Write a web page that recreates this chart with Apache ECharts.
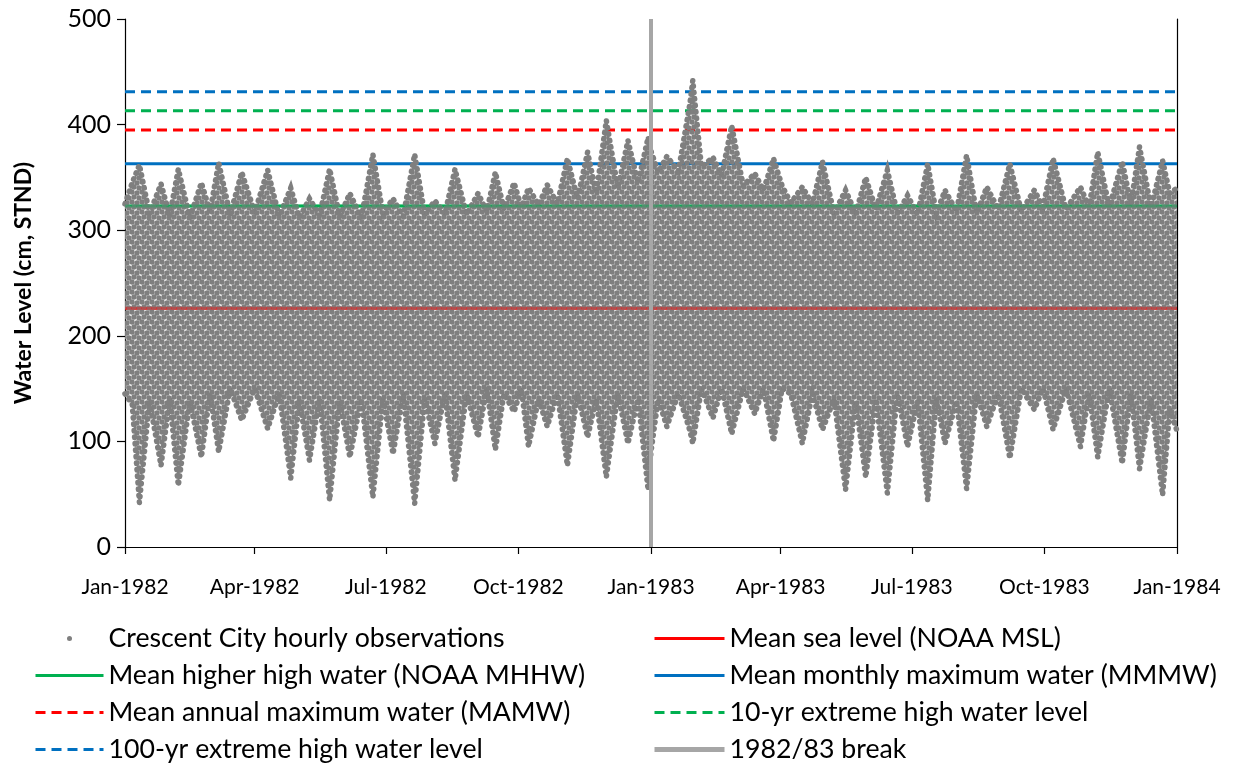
<!DOCTYPE html>
<html>
<head>
<meta charset="utf-8">
<script src="https://cdn.jsdelivr.net/npm/echarts@6/dist/echarts.min.js"></script>
<style>
html,body{margin:0;padding:0;background:#fff;}
#chart{width:1244px;height:763px;}
</style>
</head>
<body>
<div id="chart"></div>
<script>
// ---------------- data ----------------
// envelope of the hourly observation cloud, sampled at spring tides and neaps
// (days counted from startDate)
const startDate = '1982-01-01';
const sampleDay = [0,5,10,17,25,31,37,45,53,59,65,73,81,90,99,107,115,121,128,135,142,149,156,164,172,179,186,193,201,208,215,222,229,237,245,251,257,263,270,275,280,287,293,300,307,314,321,327,334,342,349,356,363,365,370,376,384,392,394,400,408,414,421,429,437,443,450,456,462,470,477,484,492,500,507,514,521,529,536,543,550,557,563,569,577,584,591,598,606,614,622,631,637,644,653,663,669,675,683,692,698,704,712,720,725,730];
const lowWater = [145,135,42,138,77,140,58,138,85,145,90,150,120,150,112,145,65,138,82,140,44,138,85,140,47,140,88,145,41,140,98,145,63,145,104,150,92,145,128,150,95,140,114,145,77,145,104,140,66,145,98,140,54,90,140,114,145,110,98,150,122,150,107,150,126,150,100,150,145,98,145,111,140,54,138,66,140,51,145,95,138,44,140,98,138,55,145,114,145,84,150,130,150,111,150,95,145,85,150,79,145,74,140,49,130,110];
const highWater = [325,345,362,316,344,314,358,312,345,318,364,315,355,317,357,313,340,312,330,314,358,313,335,312,372,316,330,313,372,315,328,316,358,315,335,318,355,320,345,322,340,324,343,325,368,330,374,335,404,340,385,345,388,375,355,370,356,420,442,360,369,352,399,342,354,338,368,342,326,341,325,365,316,338,316,350,320,357,316,333,315,363,316,338,318,371,316,341,320,363,318,338,322,368,320,341,322,374,322,365,325,379,322,366,335,340];

// reference levels (cm, STND)
const levelNames = [
  'Mean sea level (NOAA MSL)',
  'Mean higher high water (NOAA MHHW)',
  'Mean monthly maximum water (MMMW)',
  'Mean annual maximum water (MAMW)',
  '10-yr extreme high water level',
  '100-yr extreme high water level'
];
const levelValues = [226, 323, 363, 395, 413, 431];

const obsName = 'Crescent City hourly observations';
const breakName = '1982/83 break';
const breakDate = '1983-01-01';
const axisEnd = '1984-01-01';
const tickDates = ['1982-01-01','1982-04-01','1982-07-01','1982-10-01','1983-01-01','1983-04-01','1983-07-01','1983-10-01','1984-01-01'];
const tickLabels = ['Jan-1982','Apr-1982','Jul-1982','Oct-1982','Jan-1983','Apr-1983','Jul-1983','Oct-1983','Jan-1984'];

// ---------------- helpers ----------------
const DAY = 86400000;
const toT = s => Date.parse(s + 'T00:00:00Z');
const dayOf = s => Math.round((toT(s) - toT(startDate)) / DAY);
const tickDays = tickDates.map(dayOf);
const endDay = dayOf(axisEnd);
const breakDay = dayOf(breakDate);

// style: speckled grey fill imitating overlapping observation dots
function makeDotPattern() {
  const s = 10;
  const c = document.createElement('canvas');
  c.width = s; c.height = s;
  const g = c.getContext('2d');
  g.fillStyle = '#7f7f7f';
  const pts = [[2, 2], [7, 3], [4, 7], [9, 8]];
  for (const [x, y] of pts) {
    for (let dx = -s; dx <= s; dx += s) {
      for (let dy = -s; dy <= s; dy += s) {
        g.beginPath();
        g.arc(x + dx, y + dy, 2.65, 0, Math.PI * 2);
        g.fill();
      }
    }
  }
  return c;
}
const dotPattern = makeDotPattern();

const levelStyles = [
  {color: '#ff0000', type: 'solid'},
  {color: '#00b050', type: 'solid'},
  {color: '#0070c0', type: 'solid'},
  {color: '#ff0000', type: [10, 6]},
  {color: '#00b050', type: [10, 6]},
  {color: '#0070c0', type: [10, 6]}
];

const series = [];
levelNames.forEach((name, i) => {
  series.push({
    type: 'line',
    name: name,
    data: [[0, levelValues[i]], [endDay, levelValues[i]]],
    symbol: 'none',
    silent: true,
    z: 2,
    itemStyle: {color: levelStyles[i].color},
    lineStyle: {color: levelStyles[i].color, width: 3, type: levelStyles[i].type}
  });
});

const obsData = sampleDay.map((d, i) => [d, lowWater[i], highWater[i]]);
series.push({
  type: 'custom',
  name: obsName,
  coordinateSystem: 'cartesian2d',
  data: obsData,
  encode: {x: 0, y: [1, 2]},
  itemStyle: {color: '#7f7f7f'},
  silent: true,
  z: 3,
  renderItem: function (params, api) {
    if (params.dataIndex !== 0) return null;
    const up = [], lo = [];
    for (let i = 0; i < obsData.length; i++) {
      up.push(api.coord([obsData[i][0], obsData[i][2]]));
      lo.push(api.coord([obsData[i][0], obsData[i][1]]));
    }
    const poly = up.concat(lo.slice().reverse());
    const edge = {stroke: '#7f7f7f', lineWidth: 5.5, lineDash: [0.5, 6], lineCap: 'round', fill: null};
    return {
      type: 'group',
      children: [
        {type: 'polygon', shape: {points: poly}, style: {fill: {image: dotPattern, repeat: 'repeat'}}},
        {type: 'polyline', shape: {points: up}, style: Object.assign({}, edge)},
        {type: 'polyline', shape: {points: lo}, style: Object.assign({}, edge)}
      ]
    };
  }
});

// faint overlay of the two levels that run through the dot cloud (seen through the dots in the reference)
[0, 1].forEach(i => {
  series.push({
    type: 'line',
    name: levelNames[i] + ' (overlay)',
    data: [[0, levelValues[i]], [endDay, levelValues[i]]],
    symbol: 'none',
    silent: true,
    z: 3.5,
    lineStyle: {color: levelStyles[i].color, width: 3, opacity: 0.35}
  });
});

series.push({
  type: 'line',
  name: breakName,
  data: [[breakDay, 0], [breakDay, 500]],
  symbol: 'none',
  silent: true,
  z: 4,
  itemStyle: {color: '#a6a6a6'},
  lineStyle: {color: '#a6a6a6', width: 4}
});

const legendText = {fontFamily: 'Lato', fontSize: 26.7, color: '#000'};

const option = {
  animation: false,
  backgroundColor: '#ffffff',
  grid: {left: 125, right: 67, top: 19, bottom: 216, containLabel: false},
  xAxis: [{
    type: 'value',
    min: 0,
    max: endDay,
    axisLine: {show: true, onZero: false, lineStyle: {color: '#000', width: 1.2}},
    axisTick: {show: true, customValues: tickDays, length: 7, lineStyle: {color: '#000', width: 1.2}},
    axisLabel: {
      customValues: tickDays,
      formatter: function (v) {
        const i = tickDays.indexOf(Math.round(v));
        return i >= 0 ? tickLabels[i] : '';
      },
      fontFamily: 'Lato', fontSize: 21, color: '#000', margin: 30,
      showMinLabel: true, showMaxLabel: true
    },
    splitLine: {show: false}
  }],
  yAxis: [{
    type: 'value',
    min: 0, max: 500, interval: 100,
    name: 'Water Level (cm, STND)',
    nameLocation: 'middle',
    nameGap: 90,
    nameTextStyle: {fontFamily: 'Lato', fontWeight: 'bold', fontSize: 23, color: '#000'},
    axisLine: {show: true, lineStyle: {color: '#000', width: 1.2}},
    axisTick: {show: true, length: 8, lineStyle: {color: '#000', width: 1.2}},
    axisLabel: {fontFamily: 'Lato', fontSize: 25, color: '#000', margin: 14},
    splitLine: {show: false}
  }, {
    type: 'value',
    position: 'right',
    min: 0, max: 500, interval: 100,
    axisLine: {show: true, lineStyle: {color: '#000', width: 1.2}},
    axisTick: {show: false},
    axisLabel: {show: false},
    splitLine: {show: false}
  }],
  legend: [{
    orient: 'vertical',
    left: 34, top: 625, height: 160,
    padding: 0,
    itemWidth: 68, itemHeight: 5, itemGap: 10,
    selectedMode: false,
    textStyle: legendText,
    lineStyle: {width: 3},
    itemStyle: {opacity: 0},
    data: [
      {name: obsName, icon: 'circle', itemStyle: {opacity: 1, color: '#7f7f7f'}},
      levelNames[1],
      levelNames[3],
      levelNames[5]
    ]
  }, {
    orient: 'vertical',
    left: 652, top: 625, height: 160,
    padding: 0,
    itemWidth: 70, itemHeight: 5, itemGap: 10,
    selectedMode: false,
    textStyle: legendText,
    lineStyle: {width: 3},
    itemStyle: {opacity: 0},
    data: [
      levelNames[0],
      levelNames[2],
      levelNames[4],
      {name: breakName, lineStyle: {width: 5}}
    ]
  }],
  series: series
};

const chart = echarts.init(document.getElementById('chart'));
chart.setOption(option);
</script>
</body>
</html>
